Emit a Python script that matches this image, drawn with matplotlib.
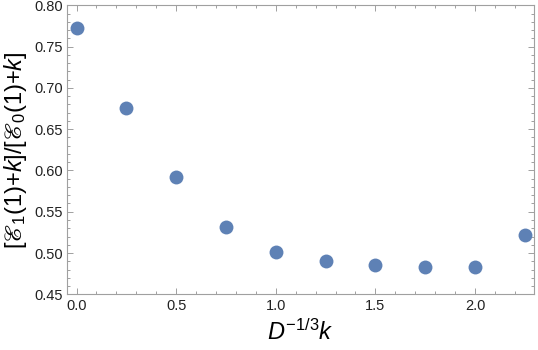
import matplotlib
matplotlib.use("Agg")
import matplotlib.pyplot as plt
from matplotlib.ticker import MultipleLocator

plt.rcParams['font.family'] = ['Liberation Sans', 'DejaVu Sans']
plt.rcParams['mathtext.fontset'] = 'custom'
plt.rcParams['mathtext.rm'] = 'Liberation Sans'
plt.rcParams['mathtext.it'] = 'Liberation Sans:italic'
plt.rcParams['mathtext.fallback'] = 'stix'

# data
k_scaled = [0.0, 0.25, 0.5, 0.75, 1.0, 1.25, 1.5, 1.75, 2.0, 2.25]
ratio = [0.773, 0.6756, 0.5917, 0.5319, 0.5009, 0.4903, 0.4859, 0.4831, 0.4827, 0.5222]

fig = plt.figure(figsize=(5.38, 3.5), dpi=100)
ax = fig.add_axes([0.1245, 0.159, 0.868, 0.826])

ax.plot(k_scaled, ratio, 'o', color='#5E81B5', markersize=10, markeredgewidth=0)

ax.set_xlim(-0.048, 2.296)
ax.set_ylim(0.45, 0.80)
ax.xaxis.set_major_locator(MultipleLocator(0.5))
ax.xaxis.set_minor_locator(MultipleLocator(0.1))
ax.yaxis.set_major_locator(MultipleLocator(0.05))
ax.yaxis.set_minor_locator(MultipleLocator(0.01))
ax.xaxis.set_major_formatter(matplotlib.ticker.FormatStrFormatter('%.1f'))
ax.yaxis.set_major_formatter(matplotlib.ticker.FormatStrFormatter('%.2f'))

frame = '#a0a0a0'
for s in ax.spines.values():
    s.set_color(frame)
    s.set_linewidth(0.8)
ax.tick_params(which='both', direction='in', top=True, right=True, color=frame,
               labelsize=10.5, labelcolor='#222222', width=0.7)
ax.tick_params(which='major', length=4.5, pad=3)
ax.tick_params(which='minor', length=2.3)

ax.set_xlabel(r'$D^{-1/3}k$', fontsize=17, labelpad=5)
ax.set_ylabel('$[ℰ_1(1){+}k]/[ℰ_0(1){+}k]$', fontsize=17, labelpad=4)

fig.savefig('out.png', dpi=100)
